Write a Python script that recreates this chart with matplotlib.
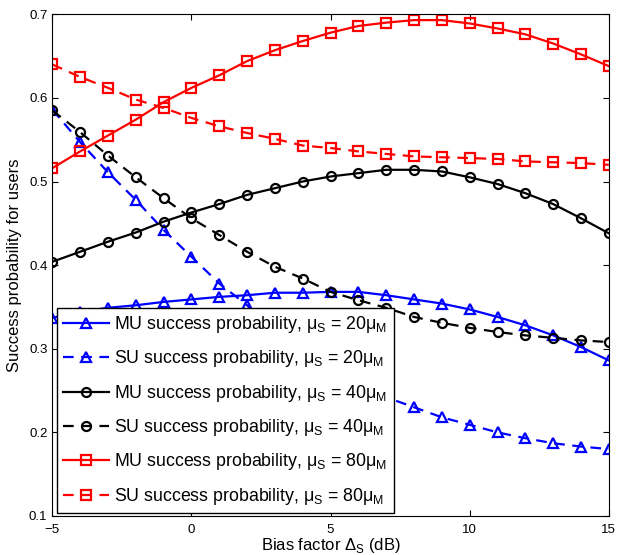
import matplotlib
matplotlib.use("Agg")
import matplotlib.pyplot as plt

plt.rcParams["font.family"] = ["Liberation Sans", "DejaVu Sans"]

bias_db = list(range(-5, 16))

mu_20 = [0.337, 0.344, 0.349, 0.352, 0.356, 0.359, 0.362, 0.364, 0.367, 0.367, 0.368,
         0.368, 0.364, 0.359, 0.354, 0.347, 0.338, 0.328, 0.316, 0.302, 0.286]
su_20 = [0.586, 0.547, 0.511, 0.478, 0.442, 0.410, 0.378, 0.352, 0.320, 0.292, 0.272,
         0.256, 0.242, 0.230, 0.218, 0.209, 0.200, 0.193, 0.187, 0.183, 0.180]
mu_40 = [0.404, 0.416, 0.428, 0.439, 0.452, 0.463, 0.473, 0.484, 0.492, 0.500, 0.506,
         0.510, 0.514, 0.514, 0.512, 0.505, 0.497, 0.486, 0.473, 0.456, 0.438]
su_40 = [0.585, 0.559, 0.531, 0.505, 0.480, 0.456, 0.436, 0.416, 0.398, 0.384, 0.368,
         0.358, 0.349, 0.338, 0.331, 0.325, 0.320, 0.316, 0.313, 0.310, 0.308]
mu_80 = [0.516, 0.536, 0.555, 0.574, 0.595, 0.612, 0.627, 0.644, 0.657, 0.668, 0.678,
         0.686, 0.690, 0.693, 0.693, 0.689, 0.683, 0.676, 0.665, 0.652, 0.638]
su_80 = [0.640, 0.625, 0.612, 0.598, 0.588, 0.576, 0.566, 0.558, 0.551, 0.543, 0.540,
         0.536, 0.533, 0.530, 0.529, 0.528, 0.527, 0.524, 0.523, 0.522, 0.520]

fig = plt.figure(figsize=(6.17, 5.55), dpi=100)
ax = fig.add_axes([0.0848, 0.0703, 0.902, 0.904])

dash = (0, (4.8, 3.4))
style = dict(linewidth=1.6, markersize=6.5, markeredgewidth=1.6, markerfacecolor="none")

sub = lambda s: "$_\\mathregular{" + s + "}$"

ax.plot(bias_db, mu_20, color="blue", marker="^", linestyle="-",
        label="MU success probability, μ" + sub("S") + " = 20μ" + sub("M"), **style)
ax.plot(bias_db, su_20, color="blue", marker="^", linestyle=dash,
        label="SU success probability, μ" + sub("S") + " = 20μ" + sub("M"), **style)
ax.plot(bias_db, mu_40, color="black", marker="o", linestyle="-",
        label="MU success probability, μ" + sub("S") + " = 40μ" + sub("M"), **style)
ax.plot(bias_db, su_40, color="black", marker="o", linestyle=dash,
        label="SU success probability, μ" + sub("S") + " = 40μ" + sub("M"), **style)
ax.plot(bias_db, mu_80, color="red", marker="s", linestyle="-",
        label="MU success probability, μ" + sub("S") + " = 80μ" + sub("M"), **style)
ax.plot(bias_db, su_80, color="red", marker="s", linestyle=dash,
        label="SU success probability, μ" + sub("S") + " = 80μ" + sub("M"), **style)

ax.set_xlim(-5, 15)
ax.set_ylim(0.1, 0.7)
ax.set_xticks([-5, 0, 5, 10, 15])
ax.set_yticks([0.1, 0.2, 0.3, 0.4, 0.5, 0.6, 0.7])
ax.tick_params(direction="in", top=True, right=True, labelsize=9.5, length=4)
ax.tick_params(axis="x", pad=5.5)
ax.tick_params(axis="y", pad=3.5)
ax.set_xlabel("Bias factor Δ" + sub("S") + " (dB)", fontsize=12, labelpad=0.5)
ax.set_ylabel("Success probability for users", fontsize=12, labelpad=5)

leg = ax.legend(loc="lower left", bbox_to_anchor=(0.0084, 0.006), borderaxespad=0,
                fontsize=12.8, fancybox=False, framealpha=1, edgecolor="black",
                handlelength=2.57, handletextpad=0.3, labelspacing=0.75, borderpad=0.35)
leg.get_frame().set_linewidth(1)

fig.savefig("out.png", dpi=100)
